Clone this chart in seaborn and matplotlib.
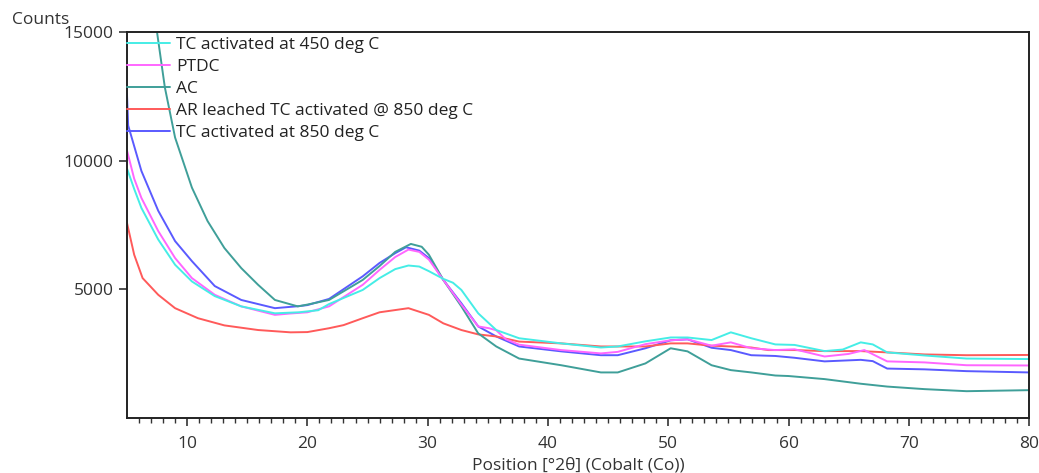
import numpy as np
import pandas as pd
import matplotlib
matplotlib.use("Agg")
import matplotlib.pyplot as plt
import seaborn as sns

# ==============================
# Data
# ==============================
tc450_x = [5, 5.6, 6.2, 7.6, 9.0, 10.4, 12.3, 14.5, 17.3, 19.3, 20.9, 21.8, 24.6, 26, 27.3,
           28.4, 29.3, 30.1, 31.3, 32.1, 32.8, 34.2, 35.7, 37.6, 41.1, 44.4, 45.8, 48.1, 50.2,
           51.6, 53.6, 55.2, 56.9, 58.9, 60.5, 63, 64.5, 66, 67, 68.2, 71.3, 74.8, 80]
tc450_y = [9700, 8900, 8160, 6930, 5950, 5300, 4730, 4330, 4060, 4100, 4180, 4420, 4970, 5430, 5780,
           5920, 5880, 5700, 5400, 5250, 4970, 4060, 3410, 3090, 2890, 2730, 2770, 2970, 3120,
           3120, 3020, 3320, 3090, 2850, 2830, 2590, 2650, 2930, 2850, 2540, 2420, 2300, 2280]

ptdc_x = [5, 5.6, 6.2, 7.6, 9.0, 10.4, 12.3, 14.5, 17.3, 18.5, 20, 21.8, 24.6, 26, 27.3,
          28.4, 29.3, 30.1, 31.3, 32.8, 34.2, 35.1, 35.7, 36.5, 37.6, 41.1, 44.4, 45.8, 48.1,
          50.2, 51.6, 53.6, 55.2, 56.9, 58.9, 60.5, 63, 65, 66.3, 68.2, 71.3, 74.8, 80]
ptdc_y = [10400, 9300, 8550, 7260, 6210, 5430, 4780, 4330, 4000, 4050, 4100, 4330, 5170, 5750, 6250,
          6540, 6450, 6150, 5360, 4400, 3550, 3480, 3400, 3050, 2840, 2630, 2500, 2560, 2860,
          3010, 3050, 2800, 2930, 2700, 2630, 2660, 2380, 2480, 2630, 2190, 2150, 2040, 2030]

ac_x = [5, 6.5, 7.5, 8.15, 9.0, 10.4, 11.7, 13.1, 14.5, 15.9, 17.3, 19.2, 20, 21.8, 24.6,
        26, 27.3, 28.6, 29.5, 30.1, 31.3, 32.8, 34.2, 35.7, 37.6, 41.1, 44.4, 45.8, 48.1,
        50.2, 51.6, 53.6, 55.2, 56.9, 58.9, 60, 63, 66, 68.2, 71.3, 74.8, 80]
ac_y = [24000, 18500, 15000, 12850, 10900, 8950, 7650, 6600, 5820, 5170, 4580, 4330, 4400, 4580, 5360,
        5900, 6450, 6760, 6650, 6340, 5360, 4330, 3280, 2770, 2300, 2040, 1760, 1760, 2110,
        2700, 2580, 2040, 1850, 1760, 1640, 1620, 1500, 1320, 1210, 1110, 1030, 1070]

ar_x = [5, 5.6, 6.3, 7.6, 9.0, 10.9, 13.1, 15.9, 18.6, 20, 21.8, 23, 24.6, 26, 28.4,
        30.1, 31.3, 32.8, 34.2, 35.7, 37.6, 41.1, 44.4, 45.8, 48.1, 50.2, 51.6, 53.6, 55.2,
        56.9, 58.3, 60.5, 63, 66, 68.2, 71.3, 74.8, 80]
ar_y = [7580, 6340, 5430, 4780, 4260, 3870, 3590, 3410, 3320, 3330, 3480, 3600, 3870, 4100, 4260,
        4000, 3670, 3410, 3240, 3160, 2960, 2890, 2770, 2770, 2770, 2890, 2890, 2800, 2770,
        2730, 2630, 2630, 2590, 2590, 2540, 2460, 2430, 2440]

tc850_x = [5, 5.1, 6.2, 7.6, 9.0, 10.4, 12.3, 14.5, 17.3, 19.3, 20, 21.8, 24.6, 26, 27.3,
           28.2, 29.3, 30.1, 31.3, 32.8, 34.2, 35.7, 37.6, 41.1, 44.4, 45.8, 48.1, 50.2, 51.6,
           53.6, 55.2, 56.9, 58.9, 60.5, 63, 66, 67, 68.2, 71.3, 74.8, 80]
tc850_y = [12600, 11370, 9600, 8050, 6870, 6090, 5120, 4580, 4260, 4340, 4380, 4620, 5500, 6020, 6400,
           6630, 6500, 6210, 5360, 4450, 3550, 3160, 2770, 2580, 2430, 2430, 2700, 3010, 3050,
           2720, 2630, 2430, 2400, 2330, 2190, 2250, 2200, 1910, 1880, 1810, 1760]

labels = ["TC activated at 450 deg C", "PTDC", "AC",
          "AR leached TC activated @ 850 deg C", "TC activated at 850 deg C"]
colors = ["#45EDE6", "#FF66FF", "#3F9F99", "#FF5A5A", "#5A5AFF"]


def main():
    series = [(tc450_x, tc450_y), (ptdc_x, ptdc_y), (ac_x, ac_y),
              (ar_x, ar_y), (tc850_x, tc850_y)]
    frames = []
    for name, (xs, ys) in zip(labels, series):
        frames.append(pd.DataFrame({"pos": xs, "counts": ys, "sample": name}))
    df = pd.concat(frames, ignore_index=True)

    sns.set_theme(style="ticks")
    plt.rcParams["font.family"] = ["Open Sans", "DejaVu Sans"]
    fs = 12.5

    fig, ax = plt.subplots(figsize=(10.39, 4.73), dpi=100)
    fig.subplots_adjust(left=0.1222, right=0.9905, top=0.932, bottom=0.117)

    # draw in reverse so the first series ends up on top
    for name, col in list(zip(labels, colors))[::-1]:
        sub = df[df["sample"] == name]
        sns.lineplot(data=sub, x="pos", y="counts", color=col, lw=1.4,
                     ax=ax, label=name, sort=False)

    ax.set_xlim(5, 80)
    ax.set_ylim(0, 15000)
    ax.set_xticks([10, 20, 30, 40, 50, 60, 70, 80])
    ax.set_xticks(np.arange(6, 80, 1), minor=True)
    ax.set_yticks([5000, 10000, 15000])
    ax.tick_params(axis="both", direction="out", length=6, width=1.2,
                   colors="#333333", labelsize=fs)
    ax.tick_params(axis="x", which="major", pad=7)
    ax.tick_params(axis="x", which="minor", length=3.5, width=1.0, colors="#333333")
    for sp in ax.spines.values():
        sp.set_linewidth(1.4)
        sp.set_color("#222222")

    ax.set_xlabel("Position [°2θ] (Cobalt (Co))", fontsize=fs, color="#333333", labelpad=4)
    ax.set_ylabel("")
    ax.text(-0.127, 1.031, "Counts", transform=ax.transAxes, fontsize=fs,
            color="#333333", ha="left", va="center")

    handles, labs = ax.get_legend_handles_labels()
    order = [labs.index(l) for l in labels]
    ax.legend([handles[i] for i in order], labels, loc="upper left",
              bbox_to_anchor=(-0.005, 1.0),
              frameon=False, fontsize=fs, handlelength=2.45, handletextpad=0.35,
              borderaxespad=0, borderpad=0.27, labelspacing=0.335,
              labelcolor="#222222")

    fig.savefig("out.png", dpi=100)


if __name__ == "__main__":
    main()
